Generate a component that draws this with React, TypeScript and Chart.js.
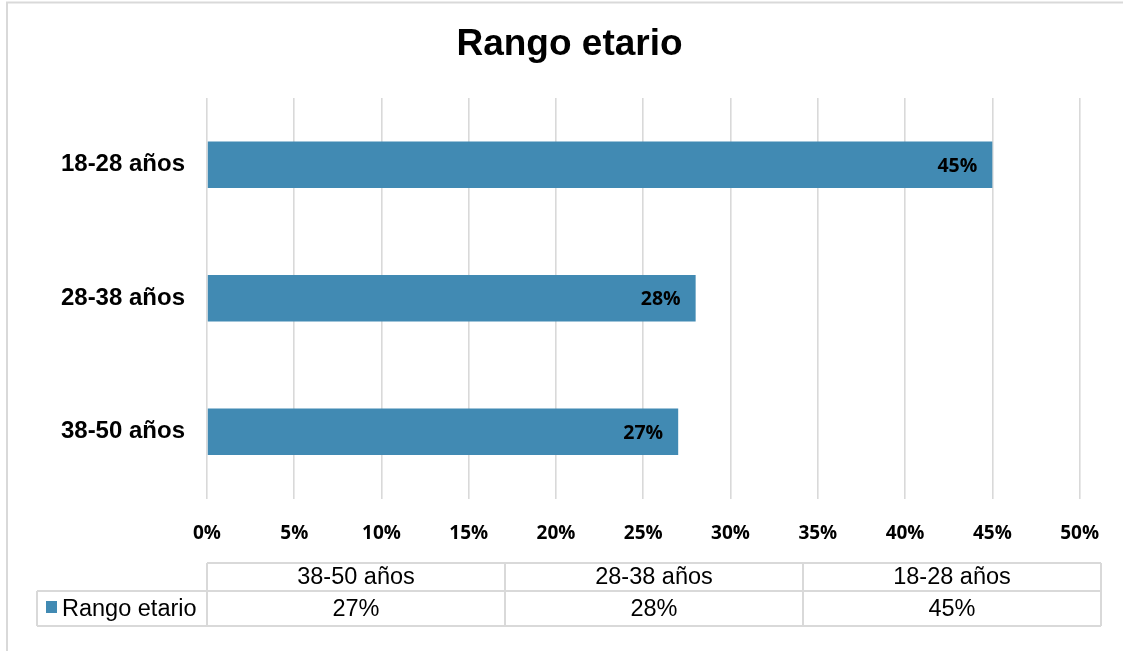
import React, { useEffect, useRef } from 'react';
import { Chart, registerables } from 'chart.js';

Chart.register(...registerables);

// Data
const chartTitle = 'Rango etario';
const seriesName = 'Rango etario';
const categories = ['38-50 años', '28-38 años', '18-28 años'];
const values = [27, 28, 45];
const axisMin = 0;
const axisMax = 50;
const axisStep = 5;

// Styles
const BAR_COLOR = '#418AB3';
const LINE_COLOR = '#d9d9d9';
const ARIAL = 'Arial, "Liberation Sans", sans-serif';
const SANS = '"Open Sans", "Noto Sans", sans-serif';

const pct = (v: number) => `${v}%`;

// Light frame on the top and left edges of the chart box
const framePlugin = {
  id: 'frame',
  beforeDraw(chart: any) {
    const { ctx, width, height } = chart;
    ctx.save();
    ctx.strokeStyle = LINE_COLOR;
    ctx.lineWidth = 2;
    ctx.beginPath();
    ctx.moveTo(7, height);
    ctx.lineTo(7, 2.5);
    ctx.lineTo(width, 2.5);
    ctx.stroke();
    ctx.restore();
  },
};

// Value labels inside the end of each bar
const barLabelPlugin = {
  id: 'barLabels',
  afterDatasetsDraw(chart: any) {
    const { ctx } = chart;
    const meta = chart.getDatasetMeta(0);
    const data = chart.data.datasets[0].data as number[];
    ctx.save();
    ctx.font = `bold 19.5px ${SANS}`;
    ctx.fillStyle = '#000';
    ctx.textAlign = 'right';
    ctx.textBaseline = 'middle';
    meta.data.forEach((bar: any, i: number) => {
      ctx.fillText(pct(data[i]), bar.x - 15, bar.y + 1.5);
    });
    ctx.restore();
  },
};

// Data table under the axis
const dataTablePlugin = {
  id: 'dataTable',
  afterDraw(chart: any) {
    const { ctx } = chart;
    const labels = chart.data.labels as string[];
    const data = chart.data.datasets[0].data as number[];
    const left = chart.chartArea.left;
    const colW = 298;
    const right = left + colW * labels.length;
    const top = 563;
    const mid = 591;
    const bottom = 626;
    const legendLeft = 37;

    ctx.save();
    ctx.strokeStyle = LINE_COLOR;
    ctx.lineWidth = 2;
    ctx.beginPath();
    ctx.moveTo(left, top);
    ctx.lineTo(right, top);
    ctx.moveTo(legendLeft, mid);
    ctx.lineTo(right, mid);
    ctx.moveTo(legendLeft, bottom);
    ctx.lineTo(right, bottom);
    ctx.moveTo(legendLeft, mid);
    ctx.lineTo(legendLeft, bottom);
    for (let i = 0; i <= labels.length; i++) {
      const x = left + i * colW;
      ctx.moveTo(x, top);
      ctx.lineTo(x, bottom);
    }
    ctx.stroke();

    ctx.fillStyle = '#000';
    ctx.font = `23.5px ${ARIAL}`;
    ctx.textAlign = 'center';
    ctx.textBaseline = 'middle';
    labels.forEach((lab, i) => {
      const cx = left + (i + 0.5) * colW;
      ctx.fillText(lab, cx, (top + mid) / 2 + 1);
      ctx.fillText(pct(data[i]), cx, (mid + bottom) / 2 + 1);
    });

    // legend key
    ctx.fillStyle = BAR_COLOR;
    ctx.fillRect(46, 601, 11, 12);
    ctx.fillStyle = '#000';
    ctx.textAlign = 'left';
    ctx.fillText(seriesName, 62, (mid + bottom) / 2 + 1);
    ctx.restore();
  },
};

export default function App() {
  const canvasRef = useRef<HTMLCanvasElement | null>(null);

  useEffect(() => {
    document.body.style.margin = '0';
    const canvas = canvasRef.current;
    if (!canvas) return;
    const chart = new Chart(canvas, {
      type: 'bar',
      data: {
        labels: categories,
        datasets: [
          {
            label: seriesName,
            data: values,
            backgroundColor: BAR_COLOR,
            borderWidth: 0,
            barPercentage: 0.35,
            categoryPercentage: 1,
          },
        ],
      },
      options: {
        indexAxis: 'y',
        responsive: false,
        animation: false,
        devicePixelRatio: 1,
        layout: { padding: { left: 16, right: 0, top: 0, bottom: 102.5 } },
        plugins: {
          legend: { display: false },
          tooltip: { enabled: false },
          title: {
            display: true,
            text: chartTitle,
            color: '#000',
            font: { family: ARIAL, size: 37, weight: 'bold', lineHeight: 1.2 },
            padding: { top: 23, bottom: 30.6 },
          },
        },
        scales: {
          x: {
            type: 'linear',
            position: 'bottom',
            min: axisMin,
            max: axisMax,
            grid: { color: LINE_COLOR, lineWidth: 1.6, drawTicks: false },
            border: { display: false },
            ticks: {
              stepSize: axisStep,
              padding: 24,
              color: '#000',
              font: { family: SANS, size: 19, weight: 'bold' },
              callback: (v: any) => pct(Number(v)),
            },
            afterFit: (s: any) => {
              s.height = 50;
            },
          },
          y: {
            type: 'category',
            reverse: true,
            grid: { display: false, drawTicks: false },
            border: { display: false },
            ticks: {
              padding: 22,
              color: '#000',
              font: { family: ARIAL, size: 24, weight: 'bold' },
            },
            afterFit: (s: any) => {
              s.width = 191;
            },
          },
          ySpacer: {
            type: 'linear',
            position: 'right',
            min: 0,
            max: 1,
            grid: { display: false, drawTicks: false },
            border: { display: false },
            ticks: { display: false },
            afterFit: (s: any) => {
              s.width = 43;
            },
          },
        },
      },
      plugins: [framePlugin, barLabelPlugin, dataTablePlugin],
    });
    return () => chart.destroy();
  }, []);

  return (
    <div style={{ width: 1123, height: 651 }}>
      <canvas ref={canvasRef} width={1123} height={651} style={{ display: 'block' }} />
    </div>
  );
}
